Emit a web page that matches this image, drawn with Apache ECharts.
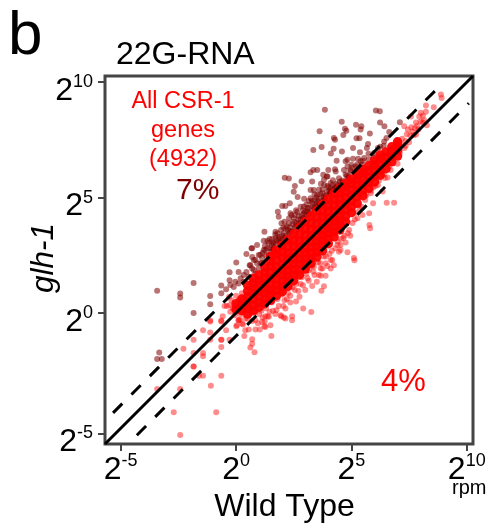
<!DOCTYPE html>
<html><head><meta charset="utf-8">
<style>html,body{margin:0;padding:0;background:#fff}#c{width:491px;height:530px}</style>
<script src="https://cdn.jsdelivr.net/npm/echarts@6/dist/echarts.min.js"></script>
</head><body><div id="c"></div>
<script>
// all values are log2(rpm): x = Wild Type, y = glh-1
const xTickValues = [-5, 0, 5, 10];
const yTickValues = [-5.22, 0, 5, 10];
const xTickExponents = ['-5', '0', '5', '10'];
const yTickExponents = ['-5', '0', '5', '10'];
const axisRange = [-5.68, 10.27];
const diagonal = [[-5.68,-5.68],[10.27,10.27]];
const upperFold = [[-5.33,-4.33],[9.0,10.0]];
const lowerFold = [[-4.3,-5.3],[10.09,9.09]];

const upGenes = [
[-3.42,.96],[-2.42,.84],[-2.42,.67],[-1.84,1.3],[-1.12,.73],[-1.12,.38],[-1.84,0],[-3.33,-1.71],[-3.42,-2],[-3.22,-2],[-.64,1.19],[-.64,.85],
[3.85,8.81],[6.06,8.78],[6.23,8.74],[4.58,8.29],[5.2,8.16],[5.43,8.09],[5.4,7.95],[6.24,8.25],[6.43,8.09],[6.64,7.84],[7.1,8.26],[3.62,7.87],[4.78,7.9],[4.72,7.98],[4.65,7.71],
[4.24,7.58],[4.29,7.51],[5.22,7.57],[5.35,7.57],[5.8,7.78],[5.72,7.32],[5.67,7.15],[3.71,7.19],[3.35,7.06],[4.23,7.12],[4.11,6.91],[4.59,7],[5.07,7.15],[5.37,6.97],[5.74,6.9],[5.98,6.93],[6.52,7.58],[6.42,7.43],
[4.36,6.6],[4.75,6.57],[4.83,6.64],[5.07,6.68],[5.29,6.68],[5.4,6.57],[3.23,6.1],[3.35,6.2],[3.52,6.2],[4,6.2],[4.29,6.23],[3.78,5.99],[3.93,5.91],[4.32,6.13],[4.68,6.2],[4.83,6.35],[4.97,6.13],[5.19,6.35],
[2.11,5.86],[2.29,5.83],[2.84,5.71],[2.55,5.5],[2.5,5.25],[2.67,5.03],[3.3,5.7],[3.81,5.77],[4.1,5.63],[4.46,5.84],[4.61,5.74],[4.9,5.91],[5.19,5.91],[4.1,5.41],[3.96,5.5],[3.74,5.19],[3.88,4.9],
[2,4.64],[2.14,4.64],[2.33,4.76],[1.81,4.39],[1.85,4.17],[1.97,3.89],[1.23,3.52],[1.71,3.52],[.91,2.94],[.7,2.8],[1.2,3.13],[1.56,3.2],[1.78,3.16],[1.2,2.73],[1.41,3.03],[1.52,2.65],[.7,2.43],[.84,2.29],[.62,2.07],
[2.36,4.32],[2.5,4.1],[2.29,3.89],[2.14,3.67],[2.65,4.39],[2.94,4.61],[3.23,4.97],[3.37,5.33],[3.23,5.33],[3.52,5.12],[3.96,5.91],[4.17,5.55],[4.39,5.33],[2.94,4.32],[2.72,3.81],[2.43,3.52],[2.07,3.45],[1.85,3.23],[2.22,3.16],[1.63,2.8],[1.42,2.51],[1.13,2.37],[.91,2.15],[1.13,2.15],[.77,1.86],[.98,1.93],
[-.28,1.76],[.01,2.19],[.45,2.55],[.67,2.8],[1.36,3.12],[-.28,1.42],[-.25,1.21],[-.43,1.03],[-.03,1.35],[.11,1.78],[.33,1.64],[.59,2.07],[.77,2.29],[.7,1.93],[1.06,2.15],[.98,2.51],[1.27,2.73],[1.49,2.8],[1.63,3.02],[-.1,1.13],[.11,1.28],[.33,1.35],[.55,1.57],[.84,1.71],
[.2,1.5],[.45,1.78],[1.05,2.52],[1.3,2.5],[1.55,2.95],[1.8,3.45],[2.02,3.2],[2.25,3.6],[2.45,3.85],[2.6,3.75],[2.8,4.05],[3.05,4.25],[3.15,4.55],[3.3,4.75],[3.45,4.65],[3.6,4.95],[3.75,5.35],[3.95,5.25],[4.05,5.15],[4.2,5.75],[4.35,5.6],[4.55,5.52],[4.7,5.55],[4.8,5.95],[5,6.42],[5.15,6.1],[5.3,6.25],[5.45,6.42],[5.55,6.72],[5.75,6.65],[5.95,6.75],[6.15,7.15],[6.25,7.2],[6.4,7.25],
[3.05,4.7],[3.15,4.25],[2.95,4.95],[3.5,4.75],[3.6,5.35],[3.68,5.6],[3.4,5.15],[2.6,4.45],[2.8,4.6],[2.3,4.1],[2.1,3.95],[1.95,3.6],[1.72,3.25],[1.35,2.8],[1.15,2.6],[1.9,3.3],[2.35,3.7],[2.7,4.05],[3.1,4.4],[3.3,4.6],[3.55,4.85],[3.8,5.05],[4.05,5.3],[4.3,5.45],[4.5,5.7],[4.75,6],[4.95,6.2],[5.05,6.3],[5.25,6.45],[5.5,6.6],
[1.25,2.9],[1.45,3.2],[1.6,3.05],[1.7,3.4],[1.88,3.05],[2,3.35],[2.12,3.25],[2.2,3.75],[2.32,3.45],[2.4,3.55],[2.52,3.95],[2.62,3.9],[2.72,4.2],[2.85,4.25],[2.9,4.1],[3,4.4],[3.1,4.55],[3.2,4.35],[3.28,4.85],[3.38,4.55],[3.48,5],[3.55,4.65],[3.65,5.15],[3.72,4.85],[3.82,4.95],[3.9,5.1],[4,5.45],[4.12,5.25],[4.22,5.35],[4.4,5.55],[4.6,5.65],[4.85,5.85],
[1.6,2.75],[1.75,3],[1.95,3.1],[2.15,3.35],[2.3,3.5],[2.55,3.7],[2.75,3.9],[2.95,4.1],[3.2,4.3],[3.4,4.5],[3.62,4.72],[3.85,4.95],[4.1,5.2],[4.3,5.4],[2.05,3.7],[2.4,4.25],[2.55,4.25],[2.9,4.45],[3.15,4.85],[3.4,4.9],[3.82,5.55]
];

const coreX = [0,.25,.5,.75,1,1.25,1.5,1.75,2,2.25,2.5,2.75,3,3.25,3.5,3.75,4,4.25,4.5,4.75,5,5.25,5.5,5.75,6,6.25,6.5,6.75,7];
const coreY = [
[.15,.4],[.1,.35,.6],[-.05,.2,.45,.7,.95,1.2],[.1,.35,.6,.85,1.05,1.3,1.5],[.25,.45,.7,.95,1.2,1.4,1.65],[.4,.62,.85,1.05,1.27,1.52,1.75,2],[.55,.78,.98,1.22,1.5,1.75,2.02,2.25,2.45],[.75,.98,1.2,1.47,1.75,2,2.3,2.55,2.72],
[.92,1.15,1.4,1.65,1.85,2.1,2.38,2.65,2.92],[1.15,1.38,1.6,1.85,2.08,2.35,2.6,2.9,3.17],[1.4,1.63,1.87,2.1,2.33,2.6,2.88,3.15,3.42],[1.65,1.87,2.1,2.35,2.58,2.85,3.13,3.4,3.7],[1.9,2.12,2.35,2.6,2.82,3.1,3.38,3.65,3.95],[2.15,2.37,2.6,2.85,3.08,3.35,3.63,3.9,4.2],
[2.42,2.65,2.88,3.1,3.33,3.6,3.88,4.15,4.43],[2.7,2.93,3.15,3.38,3.6,3.88,4.15,4.42,4.7],[3,3.22,3.45,3.67,3.85,4.13,4.4,4.67,4.93],[3.3,3.52,3.72,3.95,4.13,4.4,4.67,4.93,5.18],[3.6,3.8,4,4.22,4.43,4.7,4.95,5.2,5.4],[3.95,4.2,4.47,4.72,5,5.25,5.47,5.62],
[4.35,4.6,4.85,5.1,5.35,5.6,5.8],[4.75,5.05,5.3,5.55,5.8,6],[5.08,5.33,5.58,5.83,6.08,6.22],[5.4,5.65,5.9,6.15,6.38],[5.68,5.93,6.18,6.42,6.6],[5.97,6.2,6.45,6.7,6.85],[6.25,6.5,6.75,6.98],[6.55,6.78,7.03,7.2],[6.8,7.05,7.3,7.42]
];

const otherGenes = [
[-2.28,-1.55],[-1.84,-1.16],[-1.43,-.75],[-1.12,-.85],[-1.12,-.37],[-1.12,-.33],[-.64,-.37],[-.64,-.33],[-.43,-.75],[-.64,-1.16],[-.64,-1.16],[-.28,-1.16],[-.64,-1.48],[-1.12,-1.16],
[-1.84,-1.74],[-1.43,-1.74],[-1.43,-1.88],[-1.84,-2.32],[-1.84,-2.32],[-1.61,-2.72],[-1.43,-2.72],[-.64,-2.72],[-1.09,-3.16],[-2.42,-3.3],[-3.42,-3.3],[-2.7,-4.3],[-.86,-4.3],[-2.42,-5.29],
[-.5,.3],[-.28,.33],[0,.33],[.19,.41],[-.58,-.14],[.04,-.53],[.26,-.46],[.4,-.75],[.55,-.72],[.84,-.72],[1.03,-.72],[1.23,-.58],[1.49,-.53],[1.53,-1],[.7,-1.14],[.7,-1.33],[.62,-1.5],[.8,-1.7],[.36,-1],
[1.27,-.14],[1.42,-.17],[1.75,.12],[1.96,-.14],[2.14,.19],[2.43,-.14],[2.43,-.32],[.19,-.06],[.4,-.24],[.84,-.32],[1.13,-.39],[3.26,.04],[2.07,-.2],[1.93,-.1],[1.27,-.61],[1.24,-.36],[1.37,-.14],[.11,-.32],[.01,-.58],[.3,-.5],[.11,-.32],[.16,-.3],[2.91,.19],[2.14,-.24],
[6.85,4.78],[6.53,4.78],[5.13,2.28],[4.83,2.63],[5.81,3.67],[5.78,3.81],[5.77,4.32],[5.48,4.25],[5.26,4.1],[5.94,4.76],[5.84,5.19],[6.57,5.87],[6.35,5.26],[7,6.47],[6.59,6.5],[6.63,6.35],
[8.57,8.92],[8.88,9.47],[8.91,9.32],[8.23,8.72],[8.01,8.68],[8.23,8.99],[7.94,8.52],[8.27,8.13],[7.8,7.73],[8.09,8.25],[7.58,8.52],[7.29,8.09],[3.81,1.16],[3.7,.96],[3.3,1.17],[3.67,1.61],[3.88,1.61],[4.46,2.65],[4.1,2.29],[3.96,2.04],[4.1,1.93],[4.53,2.94],[3.74,1.93],
[3.59,1.64],[4.53,2.73],[4.17,2.29],[4.24,2.07],[3.88,2.15],[3.67,1.93],[3.37,2],[3.16,1.86],[5.11,2.38],
[7.1,6.95],[7.15,7.3],[7.2,7.55],[7.3,7.15],[7.35,7.45],[7.4,7.75],[7.45,7.95],[7.5,7.4],[7.55,7.7],[7.6,8.05],[7.7,7.7],[7.75,8],[7.8,8.25],[7.85,8.1],[7.9,7.95],[8,8.3],[8.1,8.55],[8.15,8.35],[7.35,7.25],[7.65,7.85],
[5.05,3.9],[4.9,3.6],[5.2,4.35],[5.45,4.6],[5.6,4.9],[5.85,5.3],[6.05,5.5],[6.2,5.75],[6.4,6],[6.7,6.2],[5.35,4.55],[5.65,5.1],[5.95,5.45],[6.15,5.55],[6.45,5.85],[4.7,3.35],[4.55,3.2],[4.4,3.1],[4.75,3.05],[4.95,3.35],[4.3,2.8],[4.05,2.55],[3.8,2.45],[3.55,2.2],[3.3,2.05],[3.05,1.7],[2.85,1.55],[2.6,1.25],[2.45,1.1],[2.25,.85],[2,.8],[1.8,.6],[1.55,.45],[1.3,.2],[1.1,.1],[.85,.05],[.6,-.05],[.35,.1],
[2.9,1.2],[3.15,1.4],[2.7,.95],[2.35,.45],[2.05,.3],[1.7,-.05],[1.45,.05],[1,-.05],[3.4,1.65],[3.5,1.35],[3,1],[2.6,.5],[2.75,.7],[2.2,.6],[.75,.15],[.5,.15],[.15,.1],[.3,.6],[.05,.15],[-.2,.55],[.1,.55],[.4,.35],
[-.3,.7],[-.15,.2],[-.4,.3],[0,.75],[.25,.85],[-.05,-.1],[-.25,.05],[.5,-.25],[.7,-.35],[.95,-.45],[1.15,-.2],[1.6,.1],[1.85,.3],[2.1,.55],[2.35,.75],[2.55,1],[2.8,1.25],[3.1,1.5],[3.35,1.8],[3.65,2.15],[3.9,2.45],[4.15,2.7],[4.4,2.95],[4.65,3.25],[4.85,3.45],[5.15,4.05]
];

const coreGenes = coreX.flatMap((x, i) => coreY[i].map(y => [x, y]));
const exponentLabel = (exps, tickList) => v => '{b|2}{s|' + exps[tickList.indexOf(v)] + '}';
const tickRich = {
  b: {fontFamily:'Liberation Sans', fontSize:32, color:'#000', lineHeight:34, verticalAlign:'bottom'},
  s: {fontFamily:'Liberation Sans', fontSize:18, color:'#000', lineHeight:20, verticalAlign:'top'}
};
const txt = (x, y, text, fontSize, color, extra) => ({
  type:'text', x, y, silent:true,
  style:Object.assign({text, fontSize, fill:color, fontFamily:'Liberation Sans', verticalAlign:'middle'}, extra||{})
});
const chart = echarts.init(document.getElementById('c'), null, {renderer:'canvas'});
const lineSeries = (data, type) => ({type:'line', data, symbol:'none', silent:true, z:5, animation:false,
  lineStyle:{color:'#000', width:3, type, cap:'butt'}});
chart.setOption({
  animation:false,
  grid:{left:105, top:76, width:368, height:368, show:true, borderColor:'#444', borderWidth:3, backgroundColor:'#fff'},
  xAxis:{type:'value', min:axisRange[0], max:axisRange[1], splitLine:{show:false}, axisLine:{show:false, onZero:false},
    axisTick:{show:true, length:7, inside:false, lineStyle:{color:'#444', width:2}, customValues:xTickValues},
    axisLabel:{show:true, customValues:xTickValues, formatter:exponentLabel(xTickExponents, xTickValues), rich:tickRich, margin:8, hideOverlap:false}},
  yAxis:{type:'value', min:axisRange[0], max:axisRange[1], splitLine:{show:false}, axisLine:{show:false, onZero:false},
    axisTick:{show:true, length:7, lineStyle:{color:'#444', width:2}, customValues:yTickValues},
    axisLabel:{show:true, customValues:yTickValues, formatter:exponentLabel(yTickExponents, yTickValues), rich:tickRich, margin:12, padding:[16,0,0,0], hideOverlap:false}},
  series:[
    {type:'scatter', data:upGenes, symbolSize:6, silent:true, itemStyle:{color:'#800000', opacity:.55}, z:2},
    {type:'scatter', data:otherGenes, symbolSize:6, silent:true, itemStyle:{color:'#ff0000', opacity:.45}, z:3},
    {type:'scatter', data:coreGenes, symbolSize:9.5, silent:true, itemStyle:{color:'#ff0000', opacity:.95}, z:3},
    lineSeries(diagonal, 'solid'),
    lineSeries(upperFold, [13,13]),
    lineSeries(lowerFold, [13,13])
  ],
  graphic:[
    txt(8, 37, 'b', 62, '#000'),
    txt(116, 55, '22G-RNA', 32, '#000'),
    txt(183, 102, 'All CSR-1', 23.5, '#f00', {align:'center'}),
    txt(183, 131, 'genes', 23.5, '#f00', {align:'center'}),
    txt(183, 160, '(4932)', 23.5, '#f00', {align:'center'}),
    txt(176, 191, '7%', 30, '#7f0000'),
    txt(381, 382, '4%', 31, '#f00'),
    txt(284.5, 507, 'Wild Type', 32, '#000', {align:'center'}),
    txt(452, 488, 'rpm', 20, '#000'),
    {type:'text', x:44, y:258, rotation:Math.PI/2, silent:true,
     style:{text:'glh-1', fontSize:31.5, fontStyle:'italic', fill:'#000', fontFamily:'Liberation Sans', align:'center', verticalAlign:'middle'}}
  ]
});
</script></body></html>
